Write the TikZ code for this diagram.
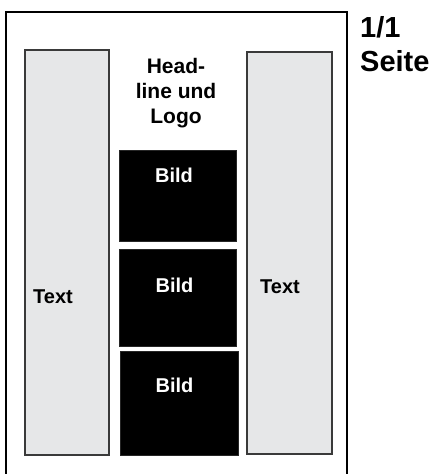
\documentclass[tikz,border=0pt]{standalone}
\usepackage{fontspec}
\setmainfont{Liberation Sans}
\definecolor{panelgray}{HTML}{E6E7E8}
\definecolor{edgegray}{HTML}{3A3A3A}
\begin{document}
\begin{tikzpicture}[x=1pt,y=-1pt,
  graybox/.style={fill=panelgray,draw=edgegray,line width=1.2pt},
  blackbox/.style={fill=black,draw=black!85,line width=0.6pt},
  lbl/.style={font=\fontsize{20}{25}\selectfont\bfseries,inner sep=0pt},
  headlbl/.style={font=\fontsize{21}{25}\selectfont\bfseries,inner sep=0pt},
  biglbl/.style={font=\fontsize{29}{34}\selectfont\bfseries,inner sep=0pt}]
\useasboundingbox (0,0) rectangle (438,474);
\fill[white] (0,0) rectangle (438,474);
% page frame
\draw[line width=2.2pt] (6,480) -- (6,12) -- (347,12) -- (347,480);
% columns
\draw[graybox] (25,50) rectangle (109,455);
\draw[graybox] (247,52) rectangle (332,454);
\draw[blackbox] (119,150) rectangle (236,241);
\draw[blackbox] (119,249) rectangle (236,346);
\draw[blackbox] (120,351) rectangle (238,455);
% texts
\node[headlbl,align=center,anchor=north] (head) at (176,58) {Head-\\line und\\Logo};
\node[biglbl,align=left,anchor=north west] (seite) at (360,16.2) {1/1\\Seite};
\node[lbl,anchor=base west] (textl) at (33,303) {Text};
\node[lbl,anchor=base west] (textr) at (260,293) {Text};
\node[lbl,text=white,anchor=base] (bild1) at (174,182) {Bild};
\node[lbl,text=white,anchor=base] (bild2) at (174.5,292) {Bild};
\node[lbl,text=white,anchor=base] (bild3) at (174.5,392) {Bild};
\end{tikzpicture}
\end{document}
